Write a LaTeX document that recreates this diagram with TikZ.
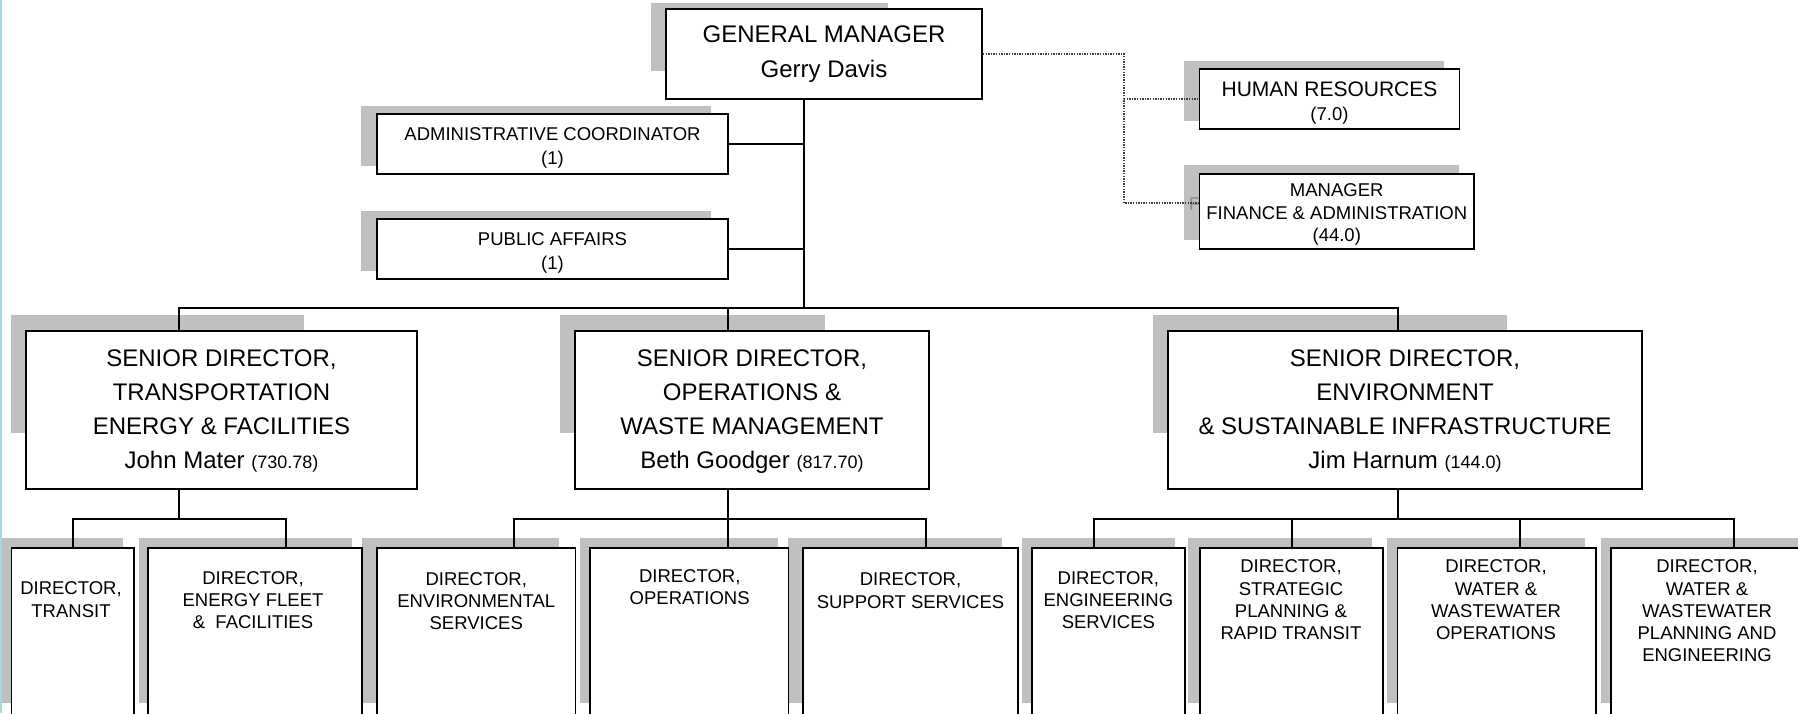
\documentclass[tikz,border=0pt]{standalone}
\usepackage{fontspec}
\setmainfont{Liberation Sans}
\definecolor{shadowgray}{HTML}{C0C0C0}
\definecolor{edgeblue}{HTML}{A6D8EA}
\definecolor{ghost}{HTML}{8A8A8A}
\newcommand\strt{\rule[-0.22em]{0pt}{0.936em}}
\begin{document}
\begin{tikzpicture}[x=1pt,y=-1pt,
  box/.style={draw=black, fill=white, line width=1.8pt, rectangle, inner sep=0pt},
  shadow/.style={fill=shadowgray},
  conn/.style={draw=black, line width=1.8pt},
  dotc/.style={draw=black!75, line width=1.4pt, dash pattern=on 1.4pt off 1.2pt},
  txt/.style={align=center, inner sep=0pt, yshift=-3.3pt},
  big/.style={font=\fontsize{24}{34}\selectfont},
  small/.style={font=\fontsize{18.5}{22.3}\selectfont}]
\useasboundingbox (0,0) rectangle (1798,713);
\clip (0,0) rectangle (1798,713);
\fill[white] (0,0) rectangle (1798,713);
\draw[edgeblue, line width=2.5pt] (1,0) -- (1,713);

% shadows
\fill[shadow] (651,3) rectangle (888,71);
\fill[shadow] (361,106) rectangle (711,166);
\fill[shadow] (361,211) rectangle (711,271);
\fill[shadow] (1184,61) rectangle (1444,121);
\fill[shadow] (1184,165) rectangle (1459,240);
\fill[shadow] (10.7,315) rectangle (303.5,433);
\fill[shadow] (559.6,315) rectangle (824.8,433);
\fill[shadow] (1153,315) rectangle (1507,433);
\fill[shadow] (2,538) rectangle (122.5,703);
\fill[shadow] (138.5,538) rectangle (352,703);
\fill[shadow] (361.6,538) rectangle (558.7,703);
\fill[shadow] (579.5,538) rectangle (777.7,703);
\fill[shadow] (788.4,538) rectangle (1001.6,703);
\fill[shadow] (1022,538) rectangle (1174.5,703);
\fill[shadow] (1188,538) rectangle (1371.5,703);
\fill[shadow] (1386.8,538) rectangle (1585,703);
\fill[shadow] (1600.5,538) rectangle (1800,703);

% ghost letter behind the finance box
\node[txt, anchor=west, text=ghost, font=\fontsize{18.5}{22}\selectfont] (ghostf) at (1189,201) {F};

% boxes
\node[box, minimum width=316, minimum height=90] (gm) at (824,54) {};
\node[box, minimum width=351, minimum height=60] (admin) at (552.5,144) {};
\node[box, minimum width=351, minimum height=60] (pa) at (552.5,249) {};
\node[box, minimum width=260, minimum height=60] (hr) at (1329.5,99) {};
\node[box, minimum width=274.5, minimum height=75] (mfa) at (1336.75,211.5) {};
\node[box, minimum width=391, minimum height=158] (sd1) at (221.5,410) {};
\node[box, minimum width=354, minimum height=158] (sd2) at (752,410) {};
\node[box, minimum width=473.3, minimum height=158] (sd3) at (1405,410) {};
\node[box, minimum width=122.5, minimum height=212] (transit) at (72.75,654) {};
\node[box, minimum width=213.6, minimum height=212] (energy) at (254.8,654) {};
\node[box, minimum width=198.5, minimum height=212] (env) at (476.25,654) {};
\node[box, minimum width=198.4, minimum height=212] (ops) at (689.2,654) {};
\node[box, minimum width=214.4, minimum height=212] (support) at (910.5,654) {};
\node[box, minimum width=152.7, minimum height=212] (eng) at (1108.35,654) {};
\node[box, minimum width=182.7, minimum height=212] (strat) at (1291.35,654) {};
\node[box, minimum width=198.5, minimum height=212] (wops) at (1496.75,654) {};
\node[box, minimum width=209.3, minimum height=212] (wplan) at (1715.35,654) {};

% connectors
\coordinate (gmd) at (803.7,308);
\coordinate (bus1) at (178.7,308);
\coordinate (bus2) at (728,308);
\coordinate (bus3) at (1398,308);
\draw[conn] (gm.south -| gmd) -- (gmd);
\draw[conn] (admin.east) -- (admin.east -| gmd);
\draw[conn] (pa.east) -- (pa.east -| gmd);
\draw[conn] (sd1.north -| bus1) -- (bus1) -- (bus3) -- (sd3.north -| bus3);
\draw[conn] (bus2) -- (sd2.north -| bus2);

\coordinate (s1) at (178.7,519);
\coordinate (s1b) at (286,519);
\draw[conn] (sd1.south -| s1) -- (s1);
\draw[conn] (transit.north) -- (transit.north |- s1) -- (s1b) -- (energy.north -| s1b);

\coordinate (s2) at (728,519);
\coordinate (s2a) at (514,519);
\coordinate (s2c) at (925.8,519);
\draw[conn] (sd2.south -| s2) -- (ops.north -| s2);
\draw[conn] (env.north -| s2a) -- (s2a) -- (s2c) -- (support.north -| s2c);

\coordinate (s3) at (1398,519);
\coordinate (s3a) at (1093.6,519);
\coordinate (s3b) at (1291.6,519);
\coordinate (s3c) at (1520,519);
\coordinate (s3d) at (1733.8,519);
\draw[conn] (sd3.south -| s3) -- (s3);
\draw[conn] (eng.north -| s3a) -- (s3a) -- (s3d) -- (wplan.north -| s3d);
\draw[conn] (s3b) -- (strat.north -| s3b);
\draw[conn] (s3c) -- (wops.north -| s3c);

% dotted staff links
\coordinate (dv) at (1124,54);
\coordinate (mfain) at ([yshift=8.5pt]mfa.west);
\draw[dotc] (gm.east) -- (dv) -- (dv |- mfain) -- (mfain);
\draw[dotc] (dv |- hr.west) -- (hr.west);

% texts
\node[txt, font=\fontsize{24}{35}\selectfont] (gmt) at (824,50.5) {\strt GENERAL MANAGER\\\strt Gerry Davis};
\node[txt, font=\fontsize{18.5}{24}\selectfont] (admint) at (552.5,145) {\strt ADMINISTRATIVE COORDINATOR\\\strt (1)};
\node[txt, font=\fontsize{18.5}{24}\selectfont] (pat) at (552.5,250) {\strt PUBLIC AFFAIRS\\\strt (1)};
\node[txt, font=\fontsize{18.5}{24}\selectfont] (hrt) at (1329.5,100) {{\fontsize{21}{24}\selectfont\strt HUMAN RESOURCES}\\\strt (7.0)};
\node[txt, font=\fontsize{18.5}{22.5}\selectfont] (mfat) at (1336.75,211.5) {\strt MANAGER\\\strt FINANCE \& ADMINISTRATION\\\strt (44.0)};

\node[txt, big] (sd1t) at (221.5,408) {\strt SENIOR DIRECTOR,\\\strt TRANSPORTATION\\\strt ENERGY \& FACILITIES\\\strt John Mater {\fontsize{18}{18}\selectfont (730.78)}};
\node[txt, big] (sd2t) at (752,408) {\strt SENIOR DIRECTOR,\\\strt OPERATIONS \&\\\strt WASTE MANAGEMENT\\\strt Beth Goodger {\fontsize{18}{18}\selectfont (817.70)}};
\node[txt, big] (sd3t) at (1405,408) {\strt SENIOR DIRECTOR,\\\strt ENVIRONMENT\\\strt \& SUSTAINABLE INFRASTRUCTURE\\\strt Jim Harnum {\fontsize{18}{18}\selectfont (144.0)}};

\node[txt, small] (transitt) at (71,598) {\strt DIRECTOR,\\\strt TRANSIT};
\node[txt, small] (energyt) at (253,598.7) {\strt DIRECTOR,\\\strt ENERGY FLEET\\\strt \&\ \ FACILITIES};
\node[txt, small] (envt) at (476.25,599.7) {\strt DIRECTOR,\\\strt ENVIRONMENTAL\\\strt SERVICES};
\node[txt, small] (opst) at (689.7,585.5) {\strt DIRECTOR,\\\strt OPERATIONS};
\node[txt, small] (supportt) at (910.5,589) {\strt DIRECTOR,\\\strt SUPPORT SERVICES};
\node[txt, small] (engt) at (1108.4,598.7) {\strt DIRECTOR,\\\strt ENGINEERING\\\strt SERVICES};
\node[txt, small] (stratt) at (1291,598.5) {\strt DIRECTOR,\\\strt STRATEGIC\\\strt PLANNING \&\\\strt RAPID TRANSIT};
\node[txt, small] (wopst) at (1496,598.5) {\strt DIRECTOR,\\\strt WATER \&\\\strt WASTEWATER\\\strt OPERATIONS};
\node[txt, small] (wplant) at (1707,609.4) {\strt DIRECTOR,\\\strt WATER \&\\\strt WASTEWATER\\\strt PLANNING AND\\\strt ENGINEERING};
\end{tikzpicture}
\end{document}
